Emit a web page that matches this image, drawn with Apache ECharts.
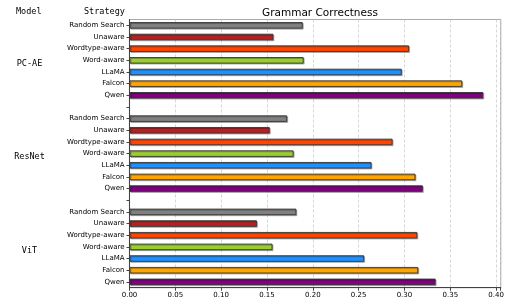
<!DOCTYPE html>
<html><head><meta charset="utf-8">
<script src="https://cdn.jsdelivr.net/npm/echarts@6/dist/echarts.min.js"></script>
<style>html,body{margin:0;padding:0;background:#fff}#c{width:510px;height:306px}</style>
</head><body><div id="c"></div>
<script>
const strategies = ['Random Search','Unaware','Wordtype-aware','Word-aware','LLaMA','Falcon','Qwen'];
const models = ['PC-AE','ResNet','ViT'];
const barColors = ['#808080','#b22222','#ff4500','#9acd32','#1e90ff','#ffa500','#800080'];
const pcaeValues = [0.189,0.157,0.305,0.190,0.297,0.363,0.386];
const resnetValues = [0.172,0.153,0.287,0.179,0.264,0.312,0.320];
const vitValues = [0.182,0.139,0.314,0.156,0.256,0.315,0.334];
const xTicks = [0,0.05,0.10,0.15,0.20,0.25,0.30,0.35,0.40];
const title = 'Grammar Correctness';

const groups = [pcaeValues, resnetValues, vitValues];
const cats = [], labels = [], data = [];
groups.forEach((vals, g) => {
  if (g > 0) { cats.push('gap' + g); labels.push(''); data.push({value: null}); }
  vals.forEach((v, i) => {
    cats.push(models[g] + '|' + strategies[i]);
    labels.push(strategies[i]);
    data.push({value: v, itemStyle: {color: barColors[i]}});
  });
});

const chart = echarts.init(document.getElementById('c'), null, {renderer: 'canvas'});
const gridL = 129.5, gridR = 9.3, gridT = 19.5, gridB = 18.3;
const plotH = 306 - gridT - gridB;
const slot = plotH / cats.length;
const mono = '"DejaVu Sans Mono", monospace';
const graphics = [
  {type: 'text', left: 16, top: 7, style: {text: 'Model', font: '8.5px ' + mono, fill: '#000'}},
  {type: 'text', left: 84, top: 7, style: {text: 'Strategy', font: '8.5px ' + mono, fill: '#000'}}
];
models.forEach((m, g) => {
  const centerIdx = g * 8 + 3;
  const y = gridT + (centerIdx + 0.5) * slot + 3.5;
  graphics.push({type: 'text', x: 29.5, y: y, style: {text: m, font: '8.5px ' + mono, fill: '#000', align: 'center', verticalAlign: 'middle'}});
});

chart.setOption({
  animation: false,
  title: {text: title, left: 315, top: 3, textAlign: 'center',
    textStyle: {fontFamily: 'DejaVu Sans', fontSize: 10.5, fontWeight: 'normal', color: '#000'}},
  grid: {left: gridL, right: gridR, top: gridT, bottom: gridB, show: true, borderColor: '#aaa', borderWidth: 1.2},
  graphic: graphics,
  xAxis: {
    type: 'value', min: 0, max: 0.405, interval: 0.05,
    axisLine: {show: true, lineStyle: {color: '#444', width: 1}},
    axisTick: {show: true, length: 3, lineStyle: {color: '#444'}},
    axisLabel: {fontFamily: 'DejaVu Sans', fontSize: 7, color: '#000', margin: 4,
      formatter: v => xTicks.some(t => Math.abs(t - v) < 1e-9) ? v.toFixed(2) : ''},
    splitLine: {show: true, lineStyle: {color: '#ccc', type: [3, 2], width: 0.8}}
  },
  yAxis: {
    type: 'category', data: cats, inverse: true,
    axisLine: {show: true, lineStyle: {color: '#444', width: 1}},
    axisTick: {show: true, alignWithLabel: true, interval: 0, length: 3, lineStyle: {color: '#444'}},
    axisLabel: {interval: 0, fontFamily: 'DejaVu Sans', fontSize: 7, color: '#000', margin: 5,
      formatter: (v, i) => labels[i]},
    splitLine: {show: false}
  },
  series: [{
    type: 'bar', data: data, barWidth: 6.5,
    itemStyle: {borderColor: '#333', borderWidth: 0.9, shadowColor: 'rgba(0,0,0,0.28)', shadowOffsetX: 1, shadowOffsetY: 1, shadowBlur: 0}
  }]
});
</script></body></html>
